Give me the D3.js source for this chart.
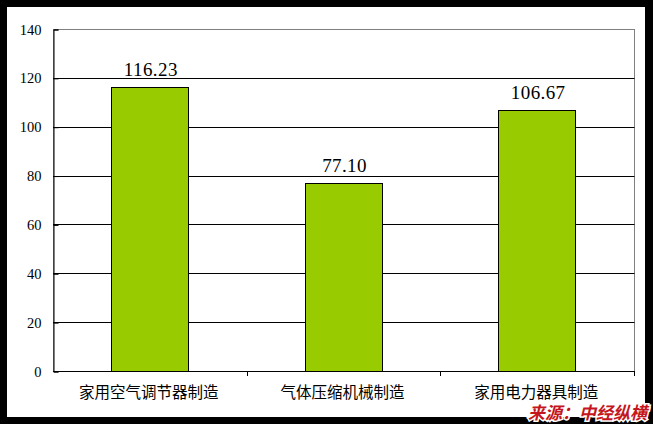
<!DOCTYPE html>
<html>
<head>
<meta charset="utf-8">
<script src="https://cdn.jsdelivr.net/npm/d3@7/dist/d3.min.js"></script>
<style>
  html, body { margin: 0; padding: 0; background: #000; }
  svg { display: block; }
</style>
</head>
<body>
<svg id="chart" width="653" height="424"></svg>
<script>
// Output value by industry
const categories = ["家用空气调节器制造", "气体压缩机械制造", "家用电力器具制造"];
const values = [116.23, 77.10, 106.67];
const valueLabels = ["116.23", "77.10", "106.67"];
const yTicks = [0, 20, 40, 60, 80, 100, 120, 140];
const sourceText = "来源：中经纵横";

const svg = d3.select("#chart");
const W = 653, H = 424;

// white canvas inside black frame
svg.append("rect").attr("x", 0).attr("y", 0).attr("width", W).attr("height", H).attr("fill", "#000");
svg.append("rect").attr("x", 7).attr("y", 7).attr("width", 638).attr("height", 410).attr("fill", "#fff");

const plot = { left: 53, right: 634, top: 29, bottom: 371 };

const x = d3.scaleBand().domain(categories).range([plot.left, plot.right]).paddingInner(0.6).paddingOuter(0.3);
const xOuter = d3.scaleBand().domain(categories).range([plot.left, plot.right]);
const y = d3.scaleLinear().domain([0, 140]).range([plot.bottom, plot.top]);

// plot border (gray top/right)
svg.append("rect")
  .attr("x", plot.left + 0.5).attr("y", plot.top + 0.5)
  .attr("width", plot.right - plot.left).attr("height", plot.bottom - plot.top)
  .attr("fill", "none").attr("stroke", "#808080").attr("stroke-width", 1);

// gridlines
svg.append("g").selectAll("line")
  .data(yTicks.filter(d => d > 0 && d < 140))
  .join("line")
  .attr("x1", plot.left).attr("x2", plot.right + 0.5)
  .attr("y1", d => Math.round(y(d)) + 0.5).attr("y2", d => Math.round(y(d)) + 0.5)
  .attr("stroke", "#000").attr("stroke-width", 1);

// y axis
const yAxis = d3.axisLeft(y).tickValues(yTicks).tickSize(-5).tickPadding(12);
const gy = svg.append("g").attr("transform", `translate(${plot.left + 0.5},0.5)`).call(yAxis);
gy.select(".domain").attr("stroke", "#000");
gy.selectAll(".tick line").attr("stroke", "#000");
gy.selectAll(".tick text")
  .attr("font-family", "'Liberation Serif', 'DejaVu Serif', serif")
  .attr("font-size", 14.5).attr("fill", "#000");

// bars
svg.append("g").selectAll("rect")
  .data(values)
  .join("rect")
  .attr("x", (d, i) => Math.round(x(categories[i])) + 0.5)
  .attr("y", d => Math.round(y(d)) + 0.5)
  .attr("width", Math.round(x.bandwidth()))
  .attr("height", d => Math.round(y(0)) - Math.round(y(d)))
  .attr("fill", "#99cc00").attr("stroke", "#000").attr("stroke-width", 1);

// x axis
const xAxisLine = svg.append("g");
xAxisLine.append("line")
  .attr("x1", plot.left).attr("x2", plot.right + 0.5)
  .attr("y1", plot.bottom + 0.5).attr("y2", plot.bottom + 0.5)
  .attr("stroke", "#000");
xAxisLine.selectAll("line.tk")
  .data(categories)
  .join("line").attr("class", "tk")
  .attr("x1", d => Math.round(xOuter(d) + xOuter.bandwidth()) + 0.5)
  .attr("x2", d => Math.round(xOuter(d) + xOuter.bandwidth()) + 0.5)
  .attr("y1", plot.bottom).attr("y2", plot.bottom + 5)
  .attr("stroke", "#000");

// category labels
svg.append("g").selectAll("text")
  .data(categories)
  .join("text")
  .attr("x", d => xOuter(d) + xOuter.bandwidth() / 2 - 1)
  .attr("y", 398)
  .attr("text-anchor", "middle")
  .attr("font-family", "'Noto Sans CJK SC', sans-serif")
  .attr("font-size", 15.5)
  .attr("fill", "#000")
  .text(d => d);

// value labels
svg.append("g").selectAll("text")
  .data(values)
  .join("text")
  .attr("x", (d, i) => x(categories[i]) + x.bandwidth() / 2 + 1)
  .attr("y", d => y(d) - 11)
  .attr("text-anchor", "middle")
  .attr("font-family", "'Liberation Serif', 'DejaVu Serif', serif")
  .attr("font-size", 19)
  .attr("letter-spacing", 0.4)
  .attr("fill", "#000")
  .text((d, i) => valueLabels[i]);

// source note
svg.append("text")
  .attr("x", 647).attr("y", 419)
  .attr("text-anchor", "end")
  .attr("font-family", "'Noto Sans CJK SC', sans-serif")
  .attr("font-size", 17).attr("font-weight", "bold").attr("font-style", "italic")
  .attr("fill", "#c4161c")
  .attr("stroke", "#fff").attr("stroke-width", 3).attr("paint-order", "stroke")
  .text(sourceText);
</script>
</body>
</html>
